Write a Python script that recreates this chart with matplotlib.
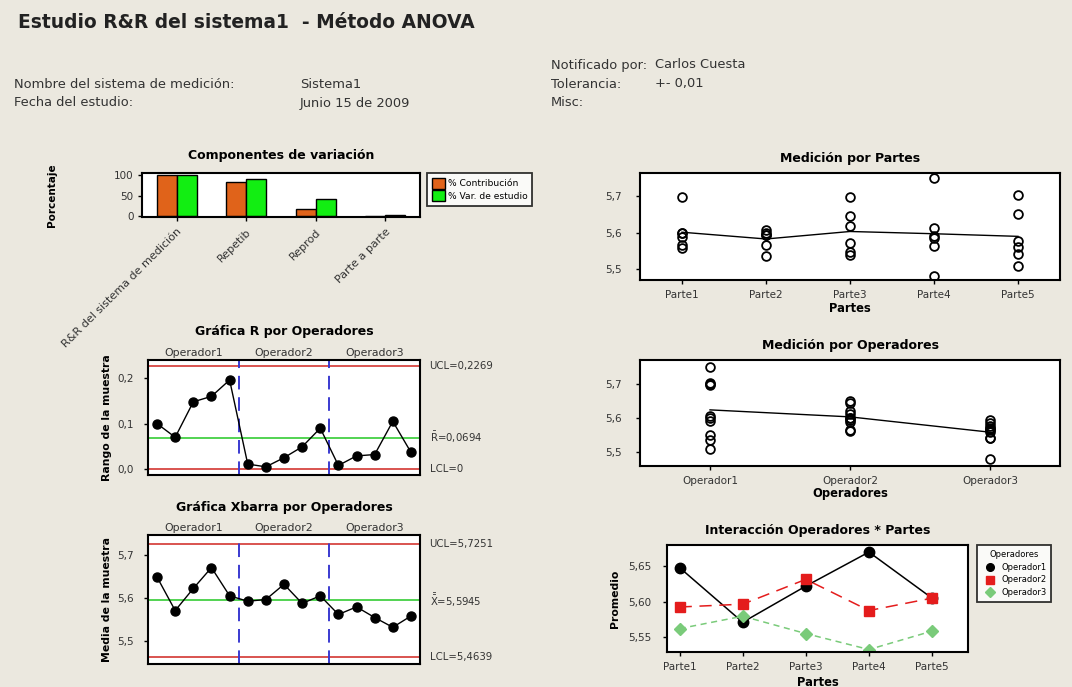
import numpy as np
import matplotlib
matplotlib.use('Agg')
import matplotlib.pyplot as plt
from matplotlib.lines import Line2D
from matplotlib.ticker import FuncFormatter

plt.rcParams['font.family'] = ['DejaVu Sans']
plt.rcParams['mathtext.fontset'] = 'dejavusans'

# ---- data ----
operators = ["Operador1", "Operador2", "Operador3"]
parts = ["Parte1", "Parte2", "Parte3", "Parte4", "Parte5"]

# two trials per operator / part
trial1 = [[5.598, 5.536, 5.548, 5.590, 5.507],
          [5.587, 5.594, 5.619, 5.563, 5.560],
          [5.558, 5.565, 5.539, 5.480, 5.540]]
trial2 = [[5.698, 5.606, 5.696, 5.750, 5.703],
          [5.598, 5.599, 5.644, 5.612, 5.650],
          [5.566, 5.594, 5.571, 5.585, 5.577]]

components = ["R&R del sistema de medición", "Repetib", "Reprod", "Parte a parte"]
pct_contribution = [100, 83, 17, 0.4]
pct_study_var = [100, 91, 41, 3]

ucl_r, rbar, lcl_r = 0.2269, 0.0694, 0.0
ucl_x, xbarbar, lcl_x = 5.7251, 5.5945, 5.4639

# ---- derived statistics ----
t1 = np.array(trial1)
t2 = np.array(trial2)
sub_mean = (t1 + t2) / 2
sub_range = np.abs(t2 - t1)

W, H = 1072, 687
BG = '#ebe8df'
RED = '#d9534f'
GRN = '#44d044'
BLUE = '#3a3ad0'
TXT = '#333333'

fig = plt.figure(figsize=(W / 100, H / 100), dpi=100, facecolor=BG)


def ax_px(l, t, r, b, ypad=6):
    ax = fig.add_axes([l / W, 1 - b / H, (r - l) / W, (b - t) / H])
    ax.set_facecolor('white')
    for s in ax.spines.values():
        s.set_linewidth(1.5)
    ax.tick_params(labelsize=7.5, length=3, width=1, labelcolor=TXT)
    ax.tick_params(axis='y', pad=ypad)
    ax.tick_params(axis='x', pad=4)
    return ax


def comma(fmt):
    return FuncFormatter(lambda v, p: (fmt % v).replace('.', ','))


def fig_text(x, y, s, **kw):
    fig.text(x / W, 1 - y / H, s, va='center', **kw)


# ---- header ----
fig_text(18, 22, "Estudio R&R del sistema1  - Método ANOVA", fontsize=13.4,
         fontweight='bold', color='#222222')
hdr = dict(fontsize=9.4, color=TXT)
fig_text(14, 84, "Nombre del sistema de medición:", **hdr)
fig_text(300, 84, "Sistema1", **hdr)
fig_text(14, 103, "Fecha del estudio:", **hdr)
fig_text(300, 103, "Junio 15 de 2009", **hdr)
fig_text(551, 65, "Notificado por:", **hdr)
fig_text(655, 65, "Carlos Cuesta", **hdr)
fig_text(551, 84, "Tolerancia:", **hdr)
fig_text(655, 84, "+- 0,01", **hdr)
fig_text(551, 103, "Misc:", **hdr)

title_kw = dict(fontsize=9, fontweight='bold', pad=8)
lab_kw = dict(fontsize=8.3, fontweight='bold')

# ---- Componentes de variación ----
ax = ax_px(142, 173, 420, 217, ypad=3)
x = np.arange(len(components))
bw = 0.29
ax.bar(x - bw / 2, pct_contribution, bw, color='#e0631a', edgecolor='black',
       linewidth=1, label='% Contribución')
ax.bar(x + bw / 2, pct_study_var, bw, color='#12ee12', edgecolor='black',
       linewidth=1, label='% Var. de estudio')
ax.set_xlim(-0.5, 3.5)
ax.set_ylim(-2, 105)
ax.set_yticks([0, 50, 100])
ax.set_xticks(x)
ax.set_xticklabels(components, rotation=45, ha='right', rotation_mode='anchor',
                   fontsize=8)
ax.set_title("Componentes de variación", fontsize=9, fontweight='bold', pad=10)
ax.set_ylabel("Porcentaje", fontsize=7.5, fontweight='bold')
ax.yaxis.set_label_coords(-0.305, 0.5)
leg = ax.legend(loc='upper left', bbox_to_anchor=(1.025, 1.0), fontsize=6.6,
                frameon=True, fancybox=False, edgecolor='black', borderpad=0.5,
                borderaxespad=0, handlelength=1.5, handleheight=1.5,
                labelspacing=0.15, handletextpad=0.3)
leg.get_frame().set_linewidth(1.3)

idx = np.arange(sub_range.size)


def control_panel(box, values, ucl, center, lcl, ylim, yticks, fmt,
                  title, ylabel, labels, tpad):
    ax = ax_px(*box, ypad=7)
    ax.axhline(ucl, color=RED, lw=1.4)
    ax.axhline(lcl, color=RED, lw=1.4)
    ax.axhline(center, color=GRN, lw=1.3)
    for b in (4.5, 9.5):
        ax.axvline(b, color=BLUE, lw=1.4, dashes=(7, 4))
    ax.plot(idx, values, color='black', lw=1, marker='o', ms=6.5)
    ax.set_xlim(-0.5, 14.5)
    ax.set_ylim(*ylim)
    ax.set_xticks([])
    ax.set_yticks(yticks)
    ax.yaxis.set_major_formatter(comma(fmt))
    ax.set_title(title, fontsize=9, fontweight='bold', pad=tpad)
    ax.set_ylabel(ylabel, fontsize=7.8, fontweight='bold', labelpad=4)
    for i, op in enumerate(operators):
        ax.text(2 + 5 * i, 1.015, op, transform=ax.get_xaxis_transform(),
                ha='center', va='bottom', fontsize=7.8, color=TXT)
    tr = ax.get_yaxis_transform()
    for v, s in zip((ucl, center, lcl), labels):
        ax.text(1.035, v, s, transform=tr, ha='left', va='center',
                fontsize=7.3, color=TXT)
    return ax


control_panel((148, 360, 420, 475), sub_range.ravel(), ucl_r, rbar, lcl_r,
              (-0.013, 0.24), [0.0, 0.1, 0.2], '%.1f',
              "Gráfica R por Operadores", "Rango de la muestra",
              ["UCL=0,2269", r"$\bar{\mathrm{R}}$=0,0694", "LCL=0"], 18)

control_panel((148, 535, 420, 664), sub_mean.ravel(), ucl_x, xbarbar, lcl_x,
              (5.448, 5.745), [5.5, 5.6, 5.7], '%.1f',
              "Gráfica Xbarra por Operadores", "Media de la muestra",
              ["UCL=5,7251", r"$\bar{\bar{\mathrm{X}}}$=5,5945", "LCL=5,4639"], 17)

# ---- Medición por Partes ----
ax = ax_px(640, 173, 1060, 280, ypad=10)
allv = np.stack([t1, t2], axis=1)  # operator, trial, part
for j in range(len(parts)):
    vals = allv[:, :, j].ravel()
    ax.plot(np.full(vals.size, j), vals, 'o', mfc='none', mec='black',
            mew=1.3, ms=6.3)
ax.plot(np.arange(len(parts)), allv.mean(axis=(0, 1)), color='black', lw=1)
ax.set_xlim(-0.5, 4.5)
ax.set_ylim(5.47, 5.763)
ax.set_yticks([5.5, 5.6, 5.7])
ax.yaxis.set_major_formatter(comma('%.1f'))
ax.set_xticks(np.arange(len(parts)))
ax.set_xticklabels(parts)
ax.set_title("Medición por Partes", **title_kw)
ax.set_xlabel("Partes", labelpad=2, **lab_kw)

# ---- Medición por Operadores ----
ax = ax_px(640, 360, 1060, 466, ypad=10)
for i in range(len(operators)):
    vals = allv[i].ravel()
    ax.plot(np.full(vals.size, i), vals, 'o', mfc='none', mec='black',
            mew=1.3, ms=6.3)
ax.plot(np.arange(len(operators)), allv.mean(axis=(1, 2)), color='black', lw=1)
ax.set_xlim(-0.5, 2.5)
ax.set_ylim(5.458, 5.77)
ax.set_yticks([5.5, 5.6, 5.7])
ax.yaxis.set_major_formatter(comma('%.1f'))
ax.set_xticks(np.arange(len(operators)))
ax.set_xticklabels(operators)
ax.set_title("Medición por Operadores", **title_kw)
ax.set_xlabel("Operadores", labelpad=1, **lab_kw)

# ---- Interacción ----
ax = ax_px(667, 545, 968, 652, ypad=8)
styles = [dict(color='black', marker='o', ls='-', ms=7.5),
          dict(color='#e41c1c', marker='s', ls=(0, (8, 5)), ms=7.5),
          dict(color='#7acb7a', marker='D', ls=(0, (4, 3)), ms=6.5)]
xp = np.arange(len(parts))
handles = []
for i, op in enumerate(operators):
    ax.plot(xp, sub_mean[i], lw=1.1, **styles[i])
    st = dict(styles[i])
    st['ls'] = 'none'
    st['ms'] = 5.5
    handles.append(Line2D([], [], **st))
ax.set_xlim(-0.2, 4.57)
ax.set_ylim(5.529, 5.68)
ax.set_yticks([5.55, 5.60, 5.65])
ax.yaxis.set_major_formatter(comma('%.2f'))
ax.set_xticks(xp)
ax.set_xticklabels(parts)
ax.set_title("Interacción Operadores * Partes", **title_kw)
ax.set_xlabel("Partes", labelpad=3, **lab_kw)
ax.set_ylabel("Promedio", fontsize=7.8, fontweight='bold', labelpad=6)
leg = ax.legend(handles, operators, title="Operadores", loc='upper left',
                bbox_to_anchor=(1.03, 1.0), fontsize=6, title_fontsize=6,
                frameon=True, fancybox=False, edgecolor='black', borderaxespad=0,
                handletextpad=0.3, labelspacing=0.45, borderpad=0.6)
leg.get_frame().set_linewidth(1.3)

fig.savefig("out.png", dpi=100, facecolor=BG)
